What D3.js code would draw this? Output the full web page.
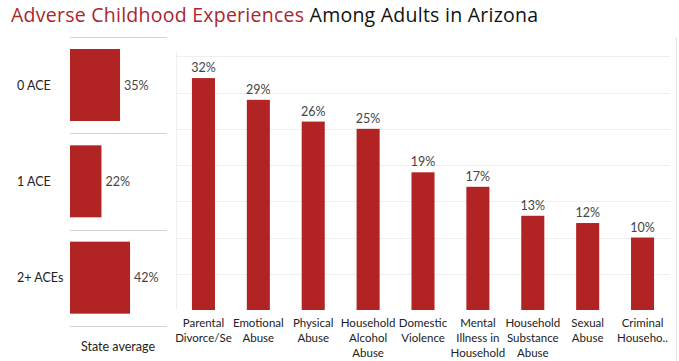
<!DOCTYPE html>
<html>
<head>
<meta charset="utf-8">
<script src="https://cdn.jsdelivr.net/npm/d3@7"></script>
<style>
  body { margin: 0; background: #fff; }
  svg { display: block; font-family: Lato, "Open Sans", sans-serif; }
</style>
</head>
<body>
<div id="chart"></div>
<script>
// State average by ACE count
const aceGroups = ["0 ACE", "1 ACE", "2+ ACEs"];
const aceValues = [35, 22, 42];

// Prevalence by ACE type
const aceTypes = [
  ["Parental", "Divorce/Se"],
  ["Emotional", "Abuse"],
  ["Physical", "Abuse"],
  ["Household", "Alcohol", "Abuse"],
  ["Domestic", "Violence"],
  ["Mental", "Illness in", "Household"],
  ["Household", "Substance", "Abuse"],
  ["Sexual", "Abuse"],
  ["Criminal", "Househo.."]
];
const typeValues = [32, 29, 26, 25, 19, 17, 13, 12, 10];
const gridTicks = [0, 5, 10, 15, 20, 25, 30, 35];

const W = 679, H = 361;
const barColor = "#b22424";
const gridColor = "#efefef";

const svg = d3.select("#chart").append("svg")
  .attr("width", W)
  .attr("height", H);

// Title
const title = svg.append("text")
  .attr("x", 11)
  .attr("y", 22)
  .attr("font-family", "'Open Sans', sans-serif")
  .attr("letter-spacing", "0.25px")
  .attr("font-size", "19.5px");
title.append("tspan").attr("fill", "#a9262d").text("Adverse Childhood Experiences ");
title.append("tspan").attr("fill", "#111").text("Among Adults in Arizona");

// ---- Left panel: state average ----
const rowY = d3.scaleBand()
  .domain(aceGroups)
  .range([37, 326]);

const xAvg = d3.scaleLinear()
  .domain([0, 100])
  .range([70, 213]);

const left = svg.append("g");

// separators
left.selectAll("line.sep")
  .data(d3.range(aceGroups.length + 1))
  .join("line")
  .attr("x1", 70).attr("x2", 167)
  .attr("y1", i => Math.round(37 + i * rowY.step()) + 0.5)
  .attr("y2", i => Math.round(37 + i * rowY.step()) + 0.5)
  .attr("stroke", "#d4d4d4");

left.selectAll("rect")
  .data(aceGroups)
  .join("rect")
  .attr("x", xAvg(0))
  .attr("y", d => rowY(d) + 12)
  .attr("width", (d, i) => xAvg(aceValues[i]) - xAvg(0))
  .attr("height", 72)
  .attr("fill", barColor);

left.selectAll("text.grp")
  .data(aceGroups)
  .join("text")
  .attr("class", "grp")
  .attr("x", 17)
  .attr("y", d => rowY(d) + rowY.bandwidth() / 2)
  .attr("dy", "0.35em")
  .attr("font-size", "12.5px")
  .attr("fill", "#222")
  .text(d => d);

left.selectAll("text.val")
  .data(aceGroups)
  .join("text")
  .attr("class", "val")
  .attr("x", (d, i) => xAvg(aceValues[i]) + 4)
  .attr("y", d => rowY(d) + rowY.bandwidth() / 2)
  .attr("dy", "0.35em")
  .attr("font-size", "12.5px")
  .attr("fill", "#444")
  .text((d, i) => aceValues[i] + "%");

left.append("text")
  .attr("x", 118)
  .attr("y", 351)
  .attr("text-anchor", "middle")
  .attr("font-size", "12.5px")
  .attr("fill", "#222")
  .text("State average");

// ---- Right panel: ACE types ----
const x = d3.scaleBand()
  .domain(d3.range(aceTypes.length))
  .range([176, 670])
  .paddingInner(0.58)
  .paddingOuter(0.29);

const y = d3.scaleLinear()
  .domain([0, 35.6])
  .range([310, 52]);

const right = svg.append("g");

right.selectAll("line.grid")
  .data(gridTicks.slice(1))
  .join("line")
  .attr("x1", 176).attr("x2", 670)
  .attr("y1", d => Math.round(y(d)) + 0.5)
  .attr("y2", d => Math.round(y(d)) + 0.5)
  .attr("stroke", gridColor);

right.append("line")
  .attr("x1", 176.5).attr("x2", 176.5)
  .attr("y1", y(35.6)).attr("y2", y(0))
  .attr("stroke", gridColor);

right.append("line")
  .attr("x1", 676.5).attr("x2", 676.5)
  .attr("y1", 37).attr("y2", H)
  .attr("stroke", "#e2e2e2");

right.selectAll("rect")
  .data(typeValues)
  .join("rect")
  .attr("x", (d, i) => x(i))
  .attr("y", d => y(d))
  .attr("width", x.bandwidth())
  .attr("height", d => y(0) - y(d))
  .attr("fill", barColor);

right.selectAll("text.val")
  .data(typeValues)
  .join("text")
  .attr("class", "val")
  .attr("x", (d, i) => x(i) + x.bandwidth() / 2)
  .attr("y", d => y(d) - 6)
  .attr("text-anchor", "middle")
  .attr("font-size", "12.5px")
  .attr("fill", "#444")
  .text(d => d + "%");

const labels = right.selectAll("text.cat")
  .data(aceTypes)
  .join("text")
  .attr("class", "cat")
  .attr("x", (d, i) => x(i) + x.bandwidth() / 2)
  .attr("y", 327)
  .attr("text-anchor", "middle")
  .attr("font-size", "11.5px")
  .attr("fill", "#222");

labels.selectAll("tspan")
  .data(d => d)
  .join("tspan")
  .attr("x", function () { return d3.select(this.parentNode).attr("x"); })
  .attr("dy", (d, i) => i === 0 ? 0 : 15)
  .text(d => d);
</script>
</body>
</html>
